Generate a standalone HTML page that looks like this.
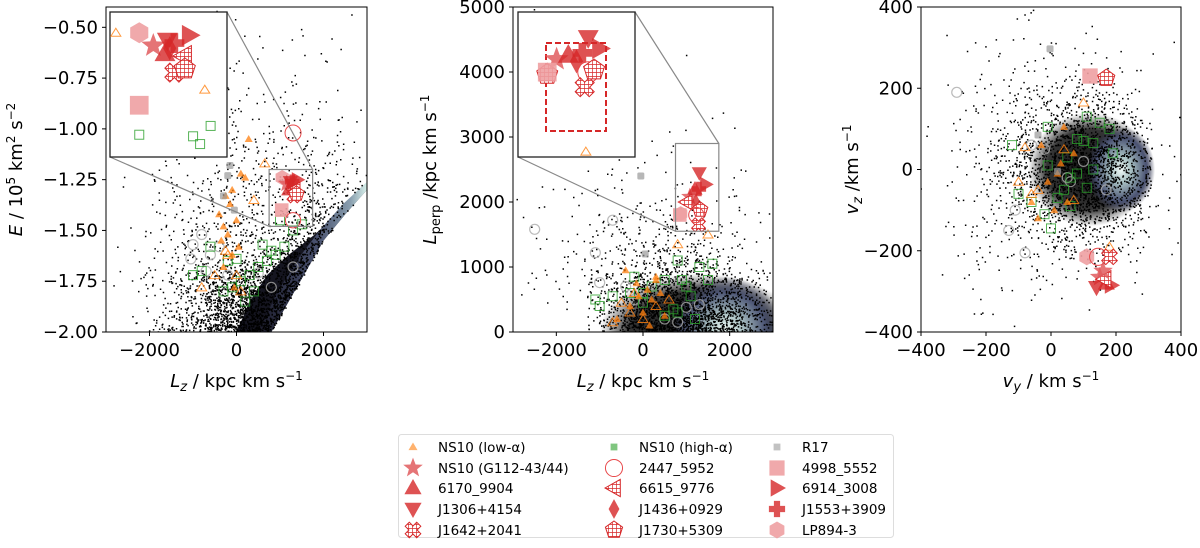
<!DOCTYPE html>
<html><head><meta charset="utf-8">
<style>
html,body{margin:0;padding:0;background:#fff;}
svg text{font-family:"DejaVu Sans","Liberation Sans",sans-serif;fill:#000;}
</style></head>
<body>
<svg id="fig" width="1200" height="543" viewBox="0 0 1200 543" xmlns="http://www.w3.org/2000/svg">
<defs>
<pattern id="hatch" width="4" height="4" patternUnits="userSpaceOnUse"><rect width="4" height="4" fill="#fff"/><path d="M0 0H4M0 0V4" stroke="#d62728" stroke-width="1.4"/></pattern>
<linearGradient id="g1" x1="0" y1="0" x2="1" y2="0"><stop offset="0" stop-color="#1c1c2c"/><stop offset="0.55" stop-color="#4a5270"/><stop offset="0.85" stop-color="#8aa0b0"/><stop offset="1" stop-color="#d8f0ea"/></linearGradient>
<radialGradient id="gd" cx="0.5" cy="0.5" r="0.5"><stop offset="0" stop-color="#111" stop-opacity="1"/><stop offset="0.7" stop-color="#111" stop-opacity="0.85"/><stop offset="1" stop-color="#111" stop-opacity="0"/></radialGradient>
<radialGradient id="g2" cx="0.5" cy="0.5" r="0.5"><stop offset="0" stop-color="#eefaf6"/><stop offset="0.3" stop-color="#a9c0c2"/><stop offset="0.7" stop-color="#4d5675"/><stop offset="1" stop-color="#2a2d45" stop-opacity="0"/></radialGradient>
<radialGradient id="g3" cx="0.5" cy="0.5" r="0.5"><stop offset="0" stop-color="#f2fbf8"/><stop offset="0.3" stop-color="#a9c2c4"/><stop offset="0.75" stop-color="#4a5272"/><stop offset="1" stop-color="#2a2d45" stop-opacity="0"/></radialGradient>
<clipPath id="c1"><rect x="106" y="7" width="261" height="325"/></clipPath>
<clipPath id="c2"><rect x="513" y="7" width="260" height="325"/></clipPath>
<clipPath id="c3"><rect x="921" y="7" width="260" height="325"/></clipPath>
</defs>
</svg>
<script>
// ---------- data ----------
const p1xTicks=[-2000,0,2000];
const p1yTicks=[-2.00,-1.75,-1.50,-1.25,-1.00,-0.75,-0.50];
const p2xTicks=[-2000,0,2000];
const p2yTicks=[0,1000,2000,3000,4000,5000];
const p3xTicks=[-400,-200,0,200,400];
const p3yTicks=[-400,-200,0,200,400];

// Panel 1 (Lz, E)
const p1LowAlphaLz=[280,100,-100,-250,-400,-150,-300,0,-200,-350,50,-100,200,-300,-50];
const p1LowAlphaE=[-1.05,-1.22,-1.30,-1.33,-1.42,-1.37,-1.48,-1.45,-1.52,-1.55,-1.58,-1.62,-1.24,-1.68,-1.78];
const p1LowOpenLz=[650,400,-200,0,100,-500,-800,-250];
const p1LowOpenE=[-1.17,-1.35,-1.62,-1.72,-1.80,-1.72,-1.78,-1.60];
const p1HighLz=[1500,1300,1100,900,700,500,300,100,-100,-300,-1000,-600,0,400,200,600,1000,800,-200,-800];
const p1HighE=[-1.47,-1.50,-1.58,-1.62,-1.65,-1.68,-1.72,-1.75,-1.78,-1.80,-1.72,-1.58,-1.64,-1.80,-1.85,-1.57,-1.45,-1.60,-1.65,-1.70];
const p1GreyLz=[-1000,-800,-1050,-700,-200,500,1300,-400,-600,800];
const p1GreyE=[-1.57,-1.52,-1.64,-1.70,-1.72,-1.71,-1.68,-1.58,-1.62,-1.78];
const p1R17Lz=[-150,-200,-300,-50];
const p1R17E=[-1.18,-1.23,-1.33,-1.40];
const p1OpenCircleLz=[1300]; const p1OpenCircleE=[-1.02];

// red objects in panel 1 (Lz, E)
const insetNames=['hex','star','tri','tdown','tright','diamond','plus','tleft','cross','square','pent','circle'];
const inset1Lz=[1050,1150,1200,1240,1400,1250,1280,1330,1320,1040,1380,1300];
const inset1E=[-1.24,-1.27,-1.30,-1.26,-1.25,-1.28,-1.26,-1.30,-1.33,-1.40,-1.32,-1.45];

// Panel 2 (Lz, Lperp)
const p2LowAlphaLz=[-400,300,-150,100,400,200,-300,0,-600,500,300,-100,150];
const p2LowAlphaLp=[950,850,750,650,600,500,400,300,200,250,800,550,100];
const p2LowOpenLz=[800,1500,-1000,-500,-300,0,300,600,-700,-200];
const p2LowOpenLp=[1350,1500,2750,450,300,200,400,500,150,600];
const p2HighLz=[-1100,-1000,-700,-200,0,200,500,800,900,1100,1300,1600,1500,1200,800,500,0,-300,1000,700];
const p2HighLp=[500,400,550,850,600,700,800,1100,800,550,1000,1050,800,200,300,250,450,600,700,350];
const p2GreyLz=[-2500,-1100,-700,-1000,-400,500,1300,1000,-200,800];
const p2GreyLp=[1580,1220,1720,760,700,200,420,380,500,150];
const p2R17Lz=[-50,50]; const p2R17Lp=[2400,1200];
const inset2Lz=[870,1080,1200,1300,1450,1220,1290,1000,1280,850,1320,1230];
const inset2Lp=[1820,2080,2200,2450,2270,1990,2200,2000,1650,1800,1880,1800];

// Panel 3 (vy, vz)
const p3LowAlphaVy=[40,-30,70,20,-10,-60,50,10,-40,30];
const p3LowAlphaVz=[105,60,40,-10,-30,-80,-80,-100,-120,15];
const p3LowOpenVy=[100,-80,40,-40,-60,70,180,-100];
const p3LowOpenVz=[165,55,50,-50,-60,-75,-190,-30];
const p3HighVy=[-10,110,150,180,190,130,100,80,60,40,-120,-100,-20,20,60,130,-10,-60,0,80,110,50];
const p3HighVz=[105,130,115,100,40,65,70,75,-20,-50,60,-60,-110,-70,-90,0,10,-80,-145,-10,-45,30];
const p3GreyVy=[-290,-80,-130,-110,100,170,60,50,-60,-20];
const p3GreyVz=[190,-205,-150,-100,20,-50,-30,-20,60,50];
const p3R17Vy=[-3,-40,20]; const p3R17Vz=[297,85,-5];
const p3RedNames=['square','pent','hex','circle','cross','star','tri','tdown','tright','tleft','star'];
const p3RedVy=[120,170,110,145,180,150,170,140,185,165,160];
const p3RedVz=[230,225,-215,-215,-215,-265,-280,-290,-285,-270,-250];

// legend
const legendLabels=['NS10 (low-α)','NS10 (G112-43/44)','6170_9904','J1306+4154','J1642+2041','NS10 (high-α)','2447_5952','6615_9776','J1436+0929','J1730+5309','R17','4998_5552','6914_3008','J1553+3909','LP894-3'];
const legendShapes=['smalltri','star','tri','tdown','cross','smallsq','circle','tleft','diamond','pent','greysq','square','tright','plus','hex'];

// ---------- helpers ----------
const svg=document.getElementById('fig');
const NS='http://www.w3.org/2000/svg';
function el(tag,attrs,parent){const e=document.createElementNS(NS,tag);for(const k in attrs)e.setAttribute(k,attrs[k]);(parent||svg).appendChild(e);return e;}
function lin(d0,d1,r0,r1){return v=>r0+(v-d0)/(d1-d0)*(r1-r0);}
const RED='#d62728',PINK='#eea0a2',ORANGE='#ff7f0e',GREEN='#2ca02c';
function regPoly(n,r,rot){let p=[];for(let i=0;i<n;i++){const a=rot+i*2*Math.PI/n;p.push([Math.cos(a)*r,Math.sin(a)*r]);}return p;}
function starPts(r){let p=[];for(let i=0;i<10;i++){const a=-Math.PI/2+i*Math.PI/5;const rr=i%2?r*0.42:r;p.push([Math.cos(a)*rr,Math.sin(a)*rr]);}return p;}
function marker(shape,x,y,s,g,name){
  let fill=RED,stroke='none',op=0.8,pts=null,sw=1;
  const sq=(r)=>[[-r,-r],[r,-r],[r,r],[-r,r]];
  switch(shape){
    case 'tri':pts=[[0,-s],[s*0.95,s*0.7],[-s*0.95,s*0.7]];break;
    case 'tdown':pts=[[0,s],[s*0.95,-s*0.7],[-s*0.95,-s*0.7]];break;
    case 'tright':pts=[[s,0],[-s*0.7,-s*0.95],[-s*0.7,s*0.95]];break;
    case 'tleft':pts=[[-s,0],[s*0.7,-s*0.95],[s*0.7,s*0.95]];fill='url(#hatch)';stroke=RED;op=1;break;
    case 'star':pts=starPts(s*1.15);fill='#e05c5e';op=0.85;break;
    case 'diamond':pts=[[0,-s*1.1],[s*0.6,0],[0,s*1.1],[-s*0.6,0]];break;
    case 'plus':{const a=s*0.35,b=s*0.9;pts=[[-a,-b],[a,-b],[a,-a],[b,-a],[b,a],[a,a],[a,b],[-a,b],[-a,a],[-b,a],[-b,-a],[-a,-a]];break;}
    case 'cross':{const a=s*0.3,b=s*0.85;pts=[[-a,-b],[a,-b],[a,-a],[b,-a],[b,a],[a,a],[a,b],[-a,b],[-a,a],[-b,a],[-b,-a],[-a,-a]].map(q=>[(q[0]-q[1])*0.75,(q[0]+q[1])*0.75]);fill='url(#hatch)';stroke=RED;op=1;break;}
    case 'pent':pts=regPoly(5,s,-Math.PI/2);fill='url(#hatch)';stroke=RED;op=1;break;
    case 'hex':pts=regPoly(6,s*0.95,Math.PI/2);fill=PINK;op=0.9;break;
    case 'square':pts=sq(s*0.85);fill=PINK;op=0.9;break;
    case 'circle':{const c=el('circle',{cx:x,cy:y,r:s*0.95,fill:'none',stroke:'#e8484a','stroke-width':1},g);return c;}
    case 'smalltri':pts=[[0,-s],[s,s*0.7],[-s,s*0.7]];fill=ORANGE;op=0.6;break;
    case 'smallsq':pts=sq(s*0.75);fill=GREEN;op=0.6;break;
    case 'greysq':pts=sq(s*0.75);fill='#999';op=0.6;break;
  }
  const p=el('polygon',{points:pts.map(q=>(x+q[0]).toFixed(1)+','+(y+q[1]).toFixed(1)).join(' '),fill:fill,stroke:stroke,'stroke-width':sw,opacity:op},g);
  
  
  return p;
}
function small(kind,xs,ys,sx,sy,g,name){
  for(let i=0;i<xs.length;i++){
    const x=sx(xs[i]),y=sy(ys[i]);let e;
    if(kind==='tri')e=el('polygon',{points:`${x},${y-4} ${x+4},${y+3} ${x-4},${y+3}`,fill:ORANGE,opacity:0.75},g);
    else if(kind==='otri')e=el('polygon',{points:`${x},${y-4.5} ${x+5},${y+3.5} ${x-5},${y+3.5}`,fill:'none',stroke:ORANGE,'stroke-width':1,opacity:0.8},g);
    else if(kind==='osq')e=el('rect',{x:x-4.5,y:y-4.5,width:9,height:9,fill:'none',stroke:GREEN,'stroke-width':1,opacity:0.8},g);
    else if(kind==='ocirc')e=el('circle',{cx:x,cy:y,r:5,fill:'none',stroke:'#aaa','stroke-width':1.2,opacity:0.8},g);
    else if(kind==='r17')e=el('rect',{x:x-3.5,y:y-3.5,width:7,height:7,rx:1.5,fill:'#999',opacity:0.7},g);
    else if(kind==='bigcirc')e=el('circle',{cx:x,cy:y,r:8,fill:'none',stroke:'#e8484a','stroke-width':1},g);
    
    
  }
}
// deterministic field-star speckle (decorative background)
let seed=12345;function rnd(){seed=(seed*1103515245+12345)%2147483648;return seed/2147483648;}
function gauss(){let u=rnd()||1e-9,v=rnd();return Math.sqrt(-2*Math.log(u))*Math.cos(2*Math.PI*v);}
function speckle(g,pts){let d='';pts.forEach(p=>{d+=`M${p[0].toFixed(1)} ${p[1].toFixed(1)}h1.5v1.5h-1.5z`;});const e=el('path',{d:d,fill:'#000'},g);}
function axes(x0,y0,x1,y1,sx,sy,xt,yt,xfmt,yfmt,xlab,ylab,name){
  const g=el('g',{});
  el('rect',{x:x0,y:y0,width:x1-x0,height:y1-y0,fill:'none',stroke:'#000','stroke-width':1},g);
  xt.forEach(v=>{const x=sx(v);el('line',{x1:x,y1:y1,x2:x,y2:y1+4,stroke:'#000'},g);const t=el('text',{x:x,y:y1+24,'font-size':18,'text-anchor':'middle'},g);t.textContent=xfmt(v);});
  yt.forEach(v=>{const y=sy(v);el('line',{x1:x0,y1:y,x2:x0-4,y2:y,stroke:'#000'},g);const t=el('text',{x:x0-8,y:y+6,'font-size':18,'text-anchor':'end'},g);t.textContent=yfmt(v);});
  const xl=el('text',{x:(x0+x1)/2,y:y1+55,'font-size':18,'text-anchor':'middle'},g);xl.innerHTML=xlab;
  const yl=el('text',{transform:`translate(${ylab[1]},${(y0+y1)/2}) rotate(-90)`,'font-size':18,'text-anchor':'middle'},g);yl.innerHTML=ylab[0];
}
const minus=v=>String(v).replace('-','−');
const LZLAB='<tspan font-style="italic">L</tspan><tspan font-style="italic" font-size="13" dy="4">z</tspan><tspan dy="-4"> / kpc km s</tspan><tspan font-size="12" dy="-7">−1</tspan>';

// ---------- Panel 1 ----------
{
 const sx=lin(-3000,3000,106,367),sy=lin(-2.0,-0.4,332,7);
 const g=el('g',{'clip-path':'url(#c1)'});
 const P=a=>a.map(q=>sx(q[0]).toFixed(1)+','+sy(q[1]).toFixed(1)).join(' ');
 const EX=[800,1200,1600,2000,2500,3000,3500],EY=[-2.0,-1.85,-1.7,-1.55,-1.42,-1.3,-1.2];
 function edge(l){if(l<=800)return -2.0-(800-l)*0.0004;for(let i=1;i<EX.length;i++){if(l<=EX[i])return EY[i-1]+(l-EX[i-1])/(EX[i]-EX[i-1])*(EY[i]-EY[i-1]);}return -1.2;}
 el('polygon',{points:P([[0,-2.0],[300,-1.85],[700,-1.72],[1200,-1.62],[1800,-1.52],[2400,-1.4],[3000,-1.27],[3000,-1.3],[2500,-1.42],[2000,-1.55],[1600,-1.7],[1200,-1.85],[800,-2.0]]),fill:'#151520'},g);
 el('polygon',{points:P([[3000,-1.3],[2500,-1.42],[2000,-1.55],[1600,-1.7],[1200,-1.85],[800,-2.0],[500,-2.0],[950,-1.8],[1450,-1.63],[1950,-1.49],[2450,-1.37],[3000,-1.26]]),fill:'url(#g1)'},g);
 const pts=[];
 for(let i=0;i<2200;i++){const lz=gauss()*900+300;const b=Math.max(edge(lz),-2.0);const e=b+Math.abs(gauss())*0.2;if(e<edge(lz))continue;pts.push([sx(lz),sy(e)]);}
 for(let i=0;i<700;i++){const lz=gauss()*1300+500,e=-1.45+gauss()*0.3;if(e<edge(lz))continue;pts.push([sx(lz),sy(e)]);}
 for(let i=0;i<120;i++){const lz=gauss()*1500+600,e=-1.0+gauss()*0.35;if(e<edge(lz))continue;pts.push([sx(lz),sy(e)]);}
 speckle(g,pts);
 small('ocirc',p1GreyLz,p1GreyE,sx,sy,g,'r17-open-circle');
 small('osq',p1HighLz,p1HighE,sx,sy,g,'ns10-high-alpha');
 small('tri',p1LowAlphaLz,p1LowAlphaE,sx,sy,g,'ns10-low-alpha');
 small('otri',p1LowOpenLz,p1LowOpenE,sx,sy,g,'ns10-low-alpha-open');
 small('r17',p1R17Lz,p1R17E,sx,sy,g,'r17');
 small('bigcirc',p1OpenCircleLz,p1OpenCircleE,sx,sy,g,'2447-5952');
 insetNames.forEach((n,i)=>marker(n,sx(inset1Lz[i]),sy(inset1E[i]),8,g,'red-star-'+n));
 const bx0=sx(750),bx1=sx(1750),by0=sy(-1.2),by1=sy(-1.48);
 el('rect',{x:bx0,y:by0,width:bx1-bx0,height:by1-by0,fill:'none',stroke:'#888','stroke-width':1.2},g);
 el('line',{x1:227,y1:12,x2:bx1,y2:by0,stroke:'#888','stroke-width':1.2},g);
 el('line',{x1:110,y1:157,x2:bx0,y2:by1,stroke:'#888','stroke-width':1.2},g);
 axes(106,7,367,332,sx,sy,p1xTicks,p1yTicks,minus,v=>minus(v.toFixed(2)),LZLAB,['<tspan font-style="italic">E</tspan> / 10<tspan font-size="12" dy="-7">5</tspan><tspan dy="7"> km</tspan><tspan font-size="12" dy="-7">2</tspan><tspan dy="7"> s</tspan><tspan font-size="12" dy="-7">−2</tspan>',22],'panel-1-axes');
 const ig=el('g',{});
 el('rect',{x:110,y:12,width:117,height:145,fill:'#fff',stroke:'#222','stroke-width':1.3},ig);
 const ix=lin(750,1750,110,227),iy=lin(-1.2,-1.48,12,157);
 small('otri',[800,1560],[-1.24,-1.35],ix,iy,ig,'inset-low-alpha');
 small('osq',[1610,1460,1520,1000],[-1.42,-1.44,-1.455,-1.437],ix,iy,ig,'inset-high-alpha');
 const i1x=[1000,1120,1220,1240,1430,1260,1300,1380,1300,1000,1390];
 const i1y=[-1.24,-1.265,-1.28,-1.255,-1.245,-1.27,-1.26,-1.285,-1.317,-1.38,-1.31];
 ['hex','star','tri','tdown','tright','diamond','plus','tleft','cross','square','pent'].forEach((n,i)=>marker(n,ix(i1x[i]),iy(i1y[i]),11,ig,'inset-'+n));
}
// ---------- Panel 2 ----------
{
 const sx=lin(-3000,3000,513,773),sy=lin(0,5000,332,7);
 const g=el('g',{'clip-path':'url(#c2)'});
 el('ellipse',{cx:sx(1300),cy:sy(0),rx:sx(1300)-sx(-1000),ry:sy(0)-sy(900),fill:'url(#gd)'},g);
 el('ellipse',{cx:sx(1900),cy:sy(50),rx:sx(1900)-sx(600),ry:sy(0)-sy(800),fill:'url(#g2)'},g);
 const pts=[];
 for(let i=0;i<2000;i++){const lz=gauss()*1000+900,lp=Math.abs(gauss())*450;if(lz<-1300)continue;pts.push([sx(lz),sy(lp)]);}
 for(let i=0;i<500;i++){const lz=gauss()*1200+600,lp=Math.abs(gauss())*900+300;pts.push([sx(lz),sy(lp)]);}
 for(let i=0;i<130;i++){const lz=gauss()*1600,lp=Math.abs(gauss())*1500+500;pts.push([sx(lz),sy(lp)]);}
 speckle(g,pts);
 small('ocirc',p2GreyLz,p2GreyLp,sx,sy,g,'r17-open-circle');
 small('osq',p2HighLz,p2HighLp,sx,sy,g,'ns10-high-alpha');
 small('tri',p2LowAlphaLz,p2LowAlphaLp,sx,sy,g,'ns10-low-alpha');
 small('otri',p2LowOpenLz,p2LowOpenLp,sx,sy,g,'ns10-low-alpha-open');
 small('r17',p2R17Lz,p2R17Lp,sx,sy,g,'r17');
 insetNames.forEach((n,i)=>marker(n,sx(inset2Lz[i]),sy(inset2Lp[i]),8,g,'red-star-'+n));
 const bx0=sx(750),bx1=sx(1750),by0=sy(2900),by1=sy(1550);
 el('rect',{x:bx0,y:by0,width:bx1-bx0,height:by1-by0,fill:'none',stroke:'#888','stroke-width':1.2},g);
 el('line',{x1:635,y1:12,x2:bx1,y2:by0,stroke:'#888','stroke-width':1.2},g);
 el('line',{x1:518,y1:157,x2:bx0,y2:by1,stroke:'#888','stroke-width':1.2},g);
 axes(513,7,773,332,sx,sy,p2xTicks,p2yTicks,minus,v=>String(v),LZLAB,['<tspan font-style="italic">L</tspan><tspan font-size="13" dy="4">perp</tspan><tspan dy="-4"> /kpc km s</tspan><tspan font-size="12" dy="-7">−1</tspan>',436],'panel-2-axes');
 const ig=el('g',{});
 el('rect',{x:518,y:12,width:117,height:145,fill:'#fff',stroke:'#222','stroke-width':1.3},ig);
 const ix=lin(750,1750,518,635),iy=lin(2900,1550,12,157);
 const r=el('rect',{x:546,y:43,width:60,height:88,fill:'none',stroke:RED,'stroke-width':2,'stroke-dasharray':'6,3'},ig);
 const i2x=[1000,1080,1180,1350,1450,1250,1300,1350,1320,1000,1400];
 const i2y=[2320,2460,2500,2660,2560,2440,2520,2340,2200,2340,2360];
 ['pent','star','tri','tdown','tright','diamond','plus','circle','cross','square','pent'].forEach((n,i)=>marker(n,ix(i2x[i]),iy(i2y[i]),11,ig,'inset-'+n));
 small('otri',[1330],[1600],ix,iy,ig,'inset-low-alpha');
}
// ---------- Panel 3 ----------
{
 const sx=lin(-400,400,921,1181),sy=lin(-400,400,332,7);
 const g=el('g',{'clip-path':'url(#c3)'});
 el('ellipse',{cx:sx(120),cy:sy(0),rx:sx(190)-sx(0),ry:sy(0)-sy(140),fill:'url(#gd)'},g);
 el('ellipse',{cx:sx(215),cy:sy(0),rx:sx(105)-sx(0),ry:sy(0)-sy(105),fill:'url(#g3)'},g);
 const pts=[];
 for(let i=0;i<2000;i++){const vy=gauss()*110+100,vz=gauss()*90;if(vy>310)continue;pts.push([sx(vy),sy(vz)]);}
 for(let i=0;i<700;i++){const vy=gauss()*160,vz=gauss()*150;pts.push([sx(vy),sy(vz)]);}
 speckle(g,pts);
 small('ocirc',p3GreyVy,p3GreyVz,sx,sy,g,'r17-open-circle');
 small('osq',p3HighVy,p3HighVz,sx,sy,g,'ns10-high-alpha');
 small('tri',p3LowAlphaVy,p3LowAlphaVz,sx,sy,g,'ns10-low-alpha');
 small('otri',p3LowOpenVy,p3LowOpenVz,sx,sy,g,'ns10-low-alpha-open');
 small('r17',p3R17Vy,p3R17Vz,sx,sy,g,'r17');
 p3RedNames.forEach((n,i)=>marker(n,sx(p3RedVy[i]),sy(p3RedVz[i]),9,g,'red-star-'+n));
 axes(921,7,1181,332,sx,sy,p3xTicks,p3yTicks,minus,minus,'<tspan font-style="italic">v</tspan><tspan font-style="italic" font-size="13" dy="4">y</tspan><tspan dy="-4"> / km s</tspan><tspan font-size="12" dy="-7">−1</tspan>',['<tspan font-style="italic">v</tspan><tspan font-style="italic" font-size="13" dy="4">z</tspan><tspan dy="-4"> /km s</tspan><tspan font-size="12" dy="-7">−1</tspan>',858],'panel-3-axes');
}
// ---------- Legend ----------
{
 const g=el('g',{});
 el('rect',{x:398.5,y:434.5,width:495,height:103,rx:3,fill:'#fff',stroke:'#ddd'},g);
 const colX=[413,614,777],rowY=[447,468,488,509,530];
 legendLabels.forEach((lab,i)=>{
   const c=Math.floor(i/5),r=i%5;const x=colX[c],y=rowY[r];
   const sh=legendShapes[i];
   const s=(sh==='smalltri'||sh==='smallsq'||sh==='greysq')?4.5:9;
   marker(sh,x,y,s,g,'legend-marker-'+sh);
   const t=el('text',{x:x+25,y:y+5,'font-size':13.5},g);t.textContent=lab;
   
   
 });
}
</script>
</body></html>
